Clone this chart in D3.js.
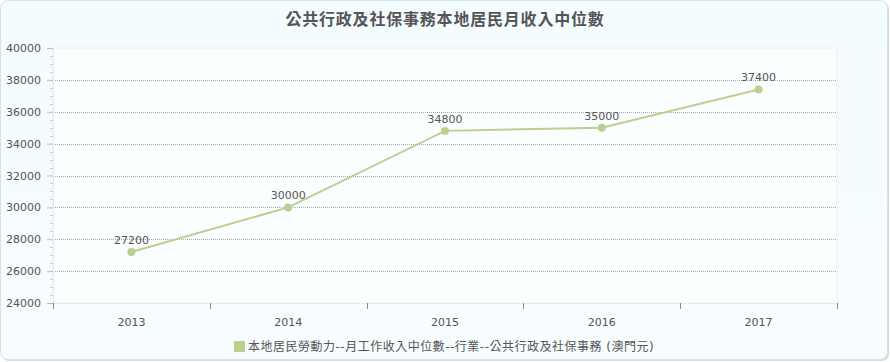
<!DOCTYPE html>
<html>
<head>
<meta charset="utf-8">
<script src="https://cdn.jsdelivr.net/npm/d3@7"></script>
<style>
  body { margin: 0; background: #fff; }
  text { font-family: "DejaVu Sans", "Noto Sans CJK TC", sans-serif; }
</style>
</head>
<body>
<div id="chart"></div>
<script>
let years = ["2013", "2014", "2015", "2016", "2017"];
let values = [27200, 30000, 34800, 35000, 37400];
let yTicks = [24000, 26000, 28000, 30000, 32000, 34000, 36000, 38000, 40000];
let title = "公共行政及社保事務本地居民月收入中位數";
let seriesName = "本地居民勞動力--月工作收入中位數--行業--公共行政及社保事務 (澳門元)";

let W = 890, H = 362;
let margin = {top: 48, right: 53, bottom: 59, left: 53},
    width = W - margin.left - margin.right,
    height = H - margin.top - margin.bottom;

let svg = d3.select("#chart").append("svg")
    .attr("width", W).attr("height", H);

let defs = svg.append("defs");
let grad = defs.append("linearGradient").attr("id", "bg")
    .attr("x1", 0).attr("y1", 0).attr("x2", 0).attr("y2", 1);
grad.append("stop").attr("offset", "0%").attr("stop-color", "#f3fcff");
grad.append("stop").attr("offset", "100%").attr("stop-color", "#f7fcff");

// shadow + background frame
svg.append("rect").attr("x", 2).attr("y", 2).attr("width", W - 3).attr("height", H - 3)
    .attr("rx", 7).attr("fill", "#d4dadd");
svg.append("rect").attr("x", 0.5).attr("y", 0.5).attr("width", W - 3).attr("height", H - 3)
    .attr("rx", 7).attr("fill", "url(#bg)").attr("stroke", "#d8e2e6");

svg.append("text")
    .attr("x", W / 2).attr("y", 25)
    .attr("text-anchor", "middle")
    .style("font-size", "16px").style("font-weight", "bold")
    .style("letter-spacing", "0.8px")
    .attr("fill", "#555")
    .text(title);

let g = svg.append("g")
    .attr("transform", "translate(" + margin.left + "," + margin.top + ")");

let x = d3.scaleBand().domain(years).range([0, width]);
let y = d3.scaleLinear().domain([24000, 40000]).range([height, 0]);

// plot area
g.append("rect").attr("width", width).attr("height", height)
    .attr("fill", "#fbfeff").attr("stroke", "#eef0f2");

// grid lines
g.selectAll(".grid").data(yTicks.filter(d => d > 24000 && d < 40000))
    .enter().append("line")
    .attr("x1", 0).attr("x2", width)
    .attr("y1", d => Math.round(y(d)) + 0.5).attr("y2", d => Math.round(y(d)) + 0.5)
    .attr("stroke", "#aaa").attr("stroke-dasharray", "1,1");

// y axis
let yAxis = g.append("g")
    .call(d3.axisLeft(y).tickValues(yTicks).tickSize(6).tickPadding(6).tickFormat(d3.format("d")));
yAxis.select(".domain").attr("stroke", "#e6e9eb");
yAxis.selectAll(".tick line").attr("stroke", "#bbb");
yAxis.selectAll("text").attr("fill", "#555").style("font-size", "11px")
    .style("font-family", "DejaVu Sans");

// minor ticks
let minor = d3.range(24000, 40000, 500).filter(d => d % 2000 !== 0);
g.selectAll(".minor").data(minor).enter().append("line")
    .attr("x1", -3).attr("x2", 0)
    .attr("y1", d => Math.round(y(d)) + 0.5).attr("y2", d => Math.round(y(d)) + 0.5)
    .attr("stroke", "#ccc");

// x axis
let xAxis = g.append("g").attr("transform", "translate(0," + height + ")")
    .call(d3.axisBottom(x).tickSize(0).tickPadding(15));
xAxis.select(".domain").attr("stroke", "#e6e9eb");
xAxis.selectAll("text").attr("fill", "#555").style("font-size", "11px")
    .style("font-family", "DejaVu Sans");
let bounds = years.map(d => x(d)).concat([width]);
g.selectAll(".xtick").data(bounds).enter().append("line")
    .attr("x1", d => Math.round(d) + 0.5).attr("x2", d => Math.round(d) + 0.5)
    .attr("y1", height).attr("y2", height + 6)
    .attr("stroke", "#888");

let data = years.map((d, i) => ({year: d, value: values[i]}));
let cx = d => x(d.year) + x.bandwidth() / 2;

let line = d3.line().x(cx).y(d => y(d.value));
g.append("path").datum(data)
    .attr("d", line)
    .attr("fill", "none").attr("stroke", "#bad08f").attr("stroke-width", 2);

g.selectAll(".dot").data(data).enter().append("circle")
    .attr("cx", cx).attr("cy", d => y(d.value)).attr("r", 4)
    .attr("fill", "#bad08f");

g.selectAll(".lbl").data(data).enter().append("text")
    .attr("x", cx).attr("y", d => y(d.value) - 8)
    .attr("text-anchor", "middle")
    .attr("fill", "#555").style("font-size", "11px").style("font-family", "DejaVu Sans")
    .text(d => d.value);

// legend
let leg = svg.append("g").attr("transform", "translate(234,341)");
leg.append("rect").attr("width", 11).attr("height", 11).attr("fill", "#bad08f");
leg.append("text").attr("x", 14).attr("y", 10)
    .attr("fill", "#555").style("font-size", "12px")
    .style("letter-spacing", "0.5px")
    .text(seriesName);
</script>
</body>
</html>
